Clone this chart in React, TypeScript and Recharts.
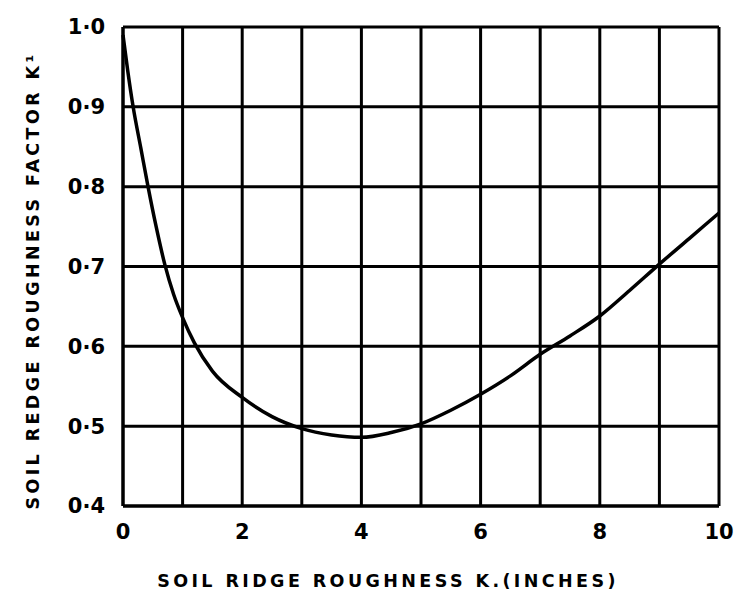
import React from 'react';
import { LineChart, Line, XAxis, YAxis, CartesianGrid, Label } from 'recharts';

const roughness = [0, 0.08, 0.17, 0.3, 0.42, 0.55, 0.7, 0.85, 1, 1.2, 1.5, 2, 2.5, 3, 3.5, 4, 4.5, 5, 5.5, 6, 6.5, 7, 7.5, 8, 8.5, 9, 9.5, 10];
const factor = [0.99, 0.945, 0.9, 0.848, 0.8, 0.752, 0.703, 0.665, 0.636, 0.604, 0.569, 0.536, 0.512, 0.497, 0.489, 0.486, 0.492, 0.503, 0.52, 0.54, 0.563, 0.59, 0.613, 0.638, 0.67, 0.703, 0.735, 0.767];
const xTicks = [0, 1, 2, 3, 4, 5, 6, 7, 8, 9, 10];
const yTicks = [0.4, 0.5, 0.6, 0.7, 0.8, 0.9, 1.0];

const data = roughness.map((x, i) => ({ x, k: factor[i] }));

const FONT = '"DejaVu Sans", sans-serif';
const titleStyle = { fill: '#000', fontSize: 17.5, fontWeight: 'bold', fontFamily: FONT, letterSpacing: 3.4 };

const App: React.FC = () => {
  return (
    <div style={{ position: 'absolute', left: 0, top: 0, background: '#fff' }}>
      <LineChart width={735} height={596} data={data} margin={{ top: 27, right: 16, bottom: 0, left: 0 }}>
        <CartesianGrid stroke="#000" strokeWidth={3} />
        <XAxis
          dataKey="x"
          type="number"
          domain={[0, 10]}
          ticks={xTicks}
          interval={0}
          tickFormatter={(v) => (v % 2 === 0 ? String(v) : '')}
          height={90}
          axisLine={{ stroke: '#000', strokeWidth: 3 }}
          tickLine={false}
          tickMargin={12}
          tick={{ fill: '#000', fontSize: 21, fontWeight: 'bold', fontFamily: FONT }}
        >
          <Label
            content={({ viewBox }: any) => (
              <text
                x={viewBox.x + viewBox.width / 2 - 33}
                y={viewBox.y + 75}
                textAnchor="middle"
                dominantBaseline="central"
                style={titleStyle}
              >
                SOIL RIDGE ROUGHNESS  K.(INCHES)
              </text>
            )}
          />
        </XAxis>
        <YAxis
          type="number"
          domain={[0.4, 1.0]}
          ticks={yTicks}
          interval={0}
          width={123}
          tickFormatter={(v) => v.toFixed(1).replace('.', '·')}
          axisLine={{ stroke: '#000', strokeWidth: 3 }}
          tickLine={false}
          tickMargin={12}
          tick={{ fill: '#000', fontSize: 21, fontWeight: 'bold', fontFamily: FONT }}
        >
          <Label
            content={({ viewBox }: any) => {
              const cx = 33;
              const cy = viewBox.y + viewBox.height / 2 + 14;
              return (
                <text
                  x={cx}
                  y={cy}
                  transform={`rotate(-90, ${cx}, ${cy})`}
                  textAnchor="middle"
                  dominantBaseline="central"
                  style={titleStyle}
                >
                  SOIL REDGE ROUGHNESS FACTOR K¹
                </text>
              );
            }}
          />
        </YAxis>
        <Line
          type="monotone"
          dataKey="k"
          stroke="#000"
          strokeWidth={3.5}
          dot={false}
          activeDot={false}
          isAnimationActive={false}
        />
      </LineChart>
    </div>
  );
};

export default App;
